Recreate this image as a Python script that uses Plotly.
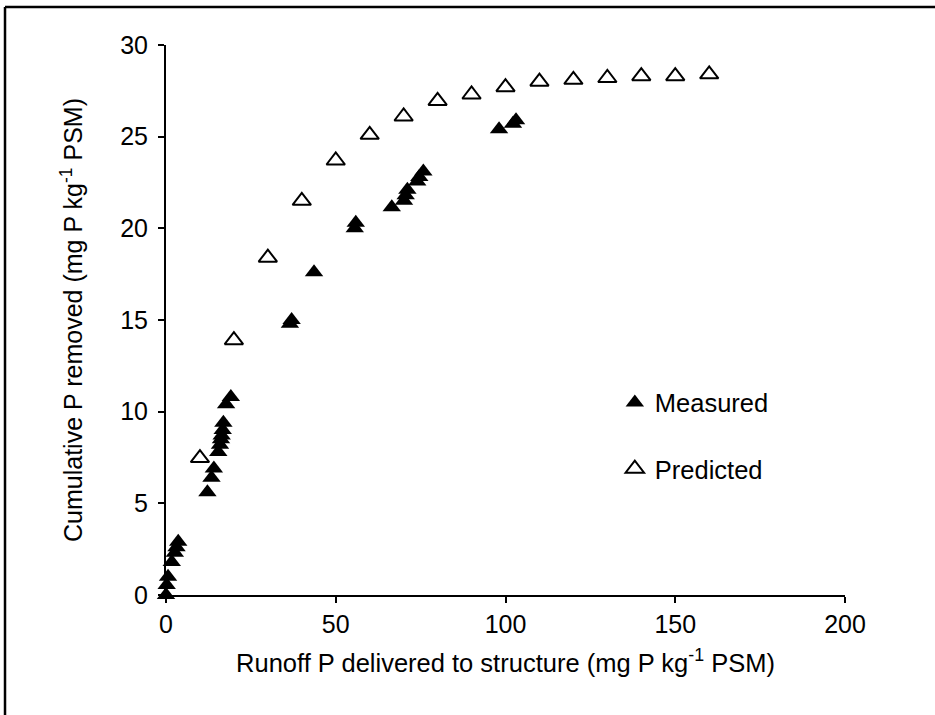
import plotly.graph_objects as go

# Measured data (runoff P delivered, cumulative P removed)
measured_x = [0.0, 0.2, 0.6, 1.7, 2.6, 3.1, 3.6,
              12.2, 13.4, 14.1, 15.4, 15.9, 16.2, 16.4, 16.7, 16.9, 17.7, 19.1,
              36.5, 37.0, 43.6, 55.6, 55.9,
              66.5, 70.1, 70.6, 71.1, 74.0, 74.6, 75.8,
              98.1, 102.2, 103.1]
measured_y = [0.0, 0.55, 1.0, 1.8, 2.3, 2.6, 2.9,
              5.6, 6.4, 6.9, 7.8, 8.2, 8.5, 8.7, 9.0, 9.4, 10.4, 10.8,
              14.8, 15.0, 17.6, 20.0, 20.3,
              21.15, 21.5, 21.8, 22.1, 22.55, 22.8, 23.1,
              25.4, 25.7, 25.9]

# Predicted data
predicted_x = [10, 20, 30, 40, 50, 60, 70, 80, 90, 100, 110, 120, 130, 140, 150, 160]
predicted_y = [7.47, 13.9, 18.4, 21.5, 23.7, 25.1, 26.1, 26.95, 27.3, 27.7,
               28.0, 28.1, 28.2, 28.3, 28.3, 28.4]

x_ticks = [0, 50, 100, 150, 200]
y_ticks = [0, 5, 10, 15, 20, 25, 30]

FONT = "Liberation Sans, Arial, sans-serif"

fig = go.Figure()
fig.add_trace(go.Scatter(
    x=measured_x, y=measured_y, mode="markers", name="Measured",
    legendgroup="m",
    marker=dict(symbol="triangle-up", size=16, color="black",
                line=dict(width=0)),
    cliponaxis=False,
))
fig.add_trace(go.Scatter(
    x=predicted_x, y=predicted_y, mode="markers", name="Predicted",
    legendgroup="p",
    marker=dict(symbol="triangle-up-open", size=16, color="black",
                line=dict(width=2, color="black")),
    cliponaxis=False,
))

axis_common = dict(
    showgrid=False, zeroline=False, showline=True, linecolor="black",
    linewidth=2, ticks="outside", ticklen=6, tickwidth=2, tickcolor="black",
    tickfont=dict(family=FONT, size=25, color="black"),
)

frame_left, frame_top = -0.2371, 1.069

fig.update_layout(
    width=935, height=715,
    margin=dict(l=166, r=90, t=45, b=120),
    paper_bgcolor="white", plot_bgcolor="white",
    font=dict(family=FONT, color="black"),
    xaxis=dict(range=[0, 200], tickvals=x_ticks, ticktext=[str(v) for v in x_ticks],
               title=dict(text="Runoff P delivered to structure (mg P kg<sup>-1</sup> PSM)",
                          font=dict(family=FONT, size=25.5, color="black"), standoff=17),
               **axis_common),
    yaxis=dict(range=[0, 30], tickvals=y_ticks, ticktext=[str(v) for v in y_ticks],
               ticklabelstandoff=5,
               title=dict(text="Cumulative P removed (mg P kg<sup>-1</sup> PSM)",
                          font=dict(family=FONT, size=25, color="black"), standoff=30),
               **axis_common),
    showlegend=True,
    legend=dict(x=0.661, y=0.392, xanchor="left", yanchor="top",
                font=dict(family=FONT, size=25.5, color="black"),
                bgcolor="rgba(0,0,0,0)", borderwidth=0,
                traceorder="grouped", tracegroupgap=30),
    shapes=[
        dict(type="line", xref="paper", yref="paper",
             x0=frame_left, x1=frame_left, y0=-0.4, y1=frame_top,
             line=dict(color="black", width=2.5), layer="below"),
        dict(type="line", xref="paper", yref="paper",
             x0=frame_left, x1=1.5, y0=frame_top, y1=frame_top,
             line=dict(color="black", width=2.5), layer="below"),
    ],
)

fig.write_html("out.html",
               config={"displayModeBar": False},
               post_script="document.body.style.margin='0';document.body.style.overflow='hidden';")
